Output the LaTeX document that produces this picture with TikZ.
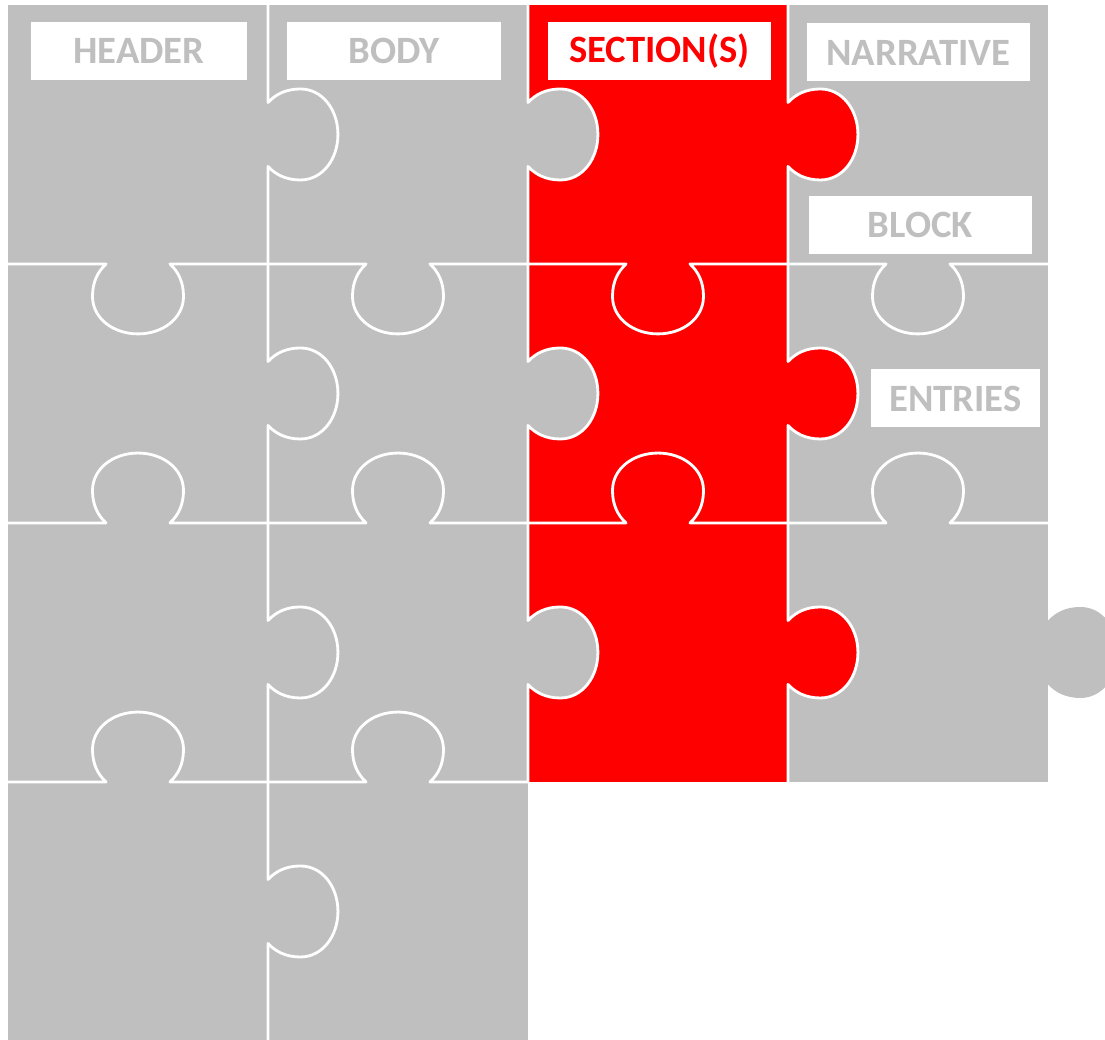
\documentclass[tikz,border=0pt]{standalone}
\usepackage{fontspec}
\setmainfont{Carlito}
\definecolor{piecegray}{RGB}{191,191,191}
\definecolor{piecered}{RGB}{255,0,0}
\newcommand{\knobcurve}{(-0.123,0) .. controls (-0.155,0.03) and (-0.175,0.07) .. (-0.175,0.125) .. controls (-0.175,0.21) and (-0.095,0.27) .. (0,0.27) .. controls (0.095,0.27) and (0.175,0.21) .. (0.175,0.125) .. controls (0.175,0.07) and (0.155,0.03) .. (0.123,0)}
\tikzset{
  seam/.style={draw=white,line width=0.8pt,line join=round},
  pics/knob/.style={code={
    \fill[#1] (-0.123,-0.02) -- \knobcurve -- (0.123,-0.02) -- cycle;
    \draw[seam] (-0.5,0) -- \knobcurve -- (0.5,0);
  }},
  pics/tab/.style={code={
    \fill[#1] (-0.123,-0.02) -- \knobcurve -- (0.123,-0.02) -- cycle;
  }},
  namebox/.style={fill=white,text=piecegray,inner sep=0pt,minimum height=0.58cm,
    font=\fontsize{11}{13}\selectfont\bfseries}
}
\begin{document}
\begin{tikzpicture}
\useasboundingbox (0,0) rectangle (11.05,10.40);
\begin{scope}[shift={(0.08,-0.01)},x=2.6cm,y=2.59cm]
  \fill[piecegray] (0,0) rectangle (2,4);
  \fill[piecegray] (3,1) rectangle (4,4);
  \fill[piecered] (2,1) rectangle (3,4);
  % vertical seams
  \pic[rotate=-90] at (1,3.5) {knob=piecegray};
  \pic[rotate=-90] at (1,2.5) {knob=piecegray};
  \pic[rotate=-90] at (1,1.5) {knob=piecegray};
  \pic[rotate=-90] at (1,0.5) {knob=piecegray};
  \pic[rotate=-90] at (2,3.5) {knob=piecegray};
  \pic[rotate=-90] at (2,2.5) {knob=piecegray};
  \pic[rotate=-90] at (2,1.5) {knob=piecegray};
  \pic[rotate=-90] at (3,3.5) {knob=piecered};
  \pic[rotate=-90] at (3,2.5) {knob=piecered};
  \pic[rotate=-90] at (3,1.5) {knob=piecered};
  \pic[rotate=-90] at (4,1.5) {tab=piecegray};
  % horizontal seams
  \pic[rotate=180] at (0.5,3) {knob=piecegray};
  \pic[rotate=180] at (1.5,3) {knob=piecegray};
  \pic[rotate=180] at (2.5,3) {knob=piecered};
  \pic[rotate=180] at (3.5,3) {knob=piecegray};
  \pic at (0.5,2) {knob=piecegray};
  \pic at (1.5,2) {knob=piecegray};
  \pic at (2.5,2) {knob=piecered};
  \pic at (3.5,2) {knob=piecegray};
  \pic at (0.5,1) {knob=piecegray};
  \pic at (1.5,1) {knob=piecegray};
\end{scope}
\node[namebox,minimum width=2.16cm] (header) at (1.39,9.89) {HEADER};
\node[namebox,minimum width=2.14cm] (body) at (3.94,9.89) {BODY};
\node[namebox,minimum width=2.23cm,text=piecered] (sections) at (6.595,9.89) {SECTION(S)};
\node[namebox,minimum width=2.23cm] (narrative) at (9.185,9.875) {NARRATIVE};
\node[namebox,minimum width=2.23cm] (block) at (9.205,8.15) {BLOCK};
\node[namebox,minimum width=1.69cm] (entries) at (9.555,6.415) {ENTRIES};
\end{tikzpicture}
\end{document}
